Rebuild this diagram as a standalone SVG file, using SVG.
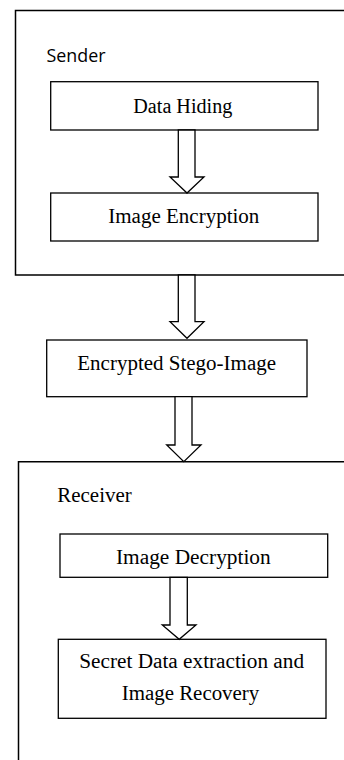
<svg xmlns="http://www.w3.org/2000/svg" width="344" height="760" viewBox="0 0 344 760">
  <style>
    .frame { fill: none; stroke: #000; stroke-width: 1.5; }
    .box { fill: #fff; stroke: #000; stroke-width: 1.3; }
    .arrow { fill: #fff; stroke: #000; stroke-width: 1.3; stroke-linejoin: miter; }
    .lbl { font-family: "Liberation Serif", "Times New Roman", serif; font-size: 20px; fill: #000; }
    .side { font-family: "Open Sans", "Noto Sans", sans-serif; font-size: 18px; fill: #000; }
  </style>
  <rect width="344" height="760" fill="#fff"/>

  <!-- Sender container (right edge runs off the page) -->
  <g id="sender">
    <path class="frame" d="M350 10.5 H15.5 V275 H350"/>
    <text class="side" x="46.5" y="62.3" textLength="59" lengthAdjust="spacingAndGlyphs">Sender</text>
  </g>

  <g id="data-hiding">
    <rect class="box" x="50.7" y="81.7" width="267.3" height="48.3"/>
    <text class="lbl" x="133.3" y="112.7" textLength="99" lengthAdjust="spacingAndGlyphs">Data Hiding</text>
  </g>

  <g id="image-encryption">
    <rect class="box" x="50.7" y="193" width="267.3" height="48"/>
    <text class="lbl" x="108.3" y="222.7" textLength="151" lengthAdjust="spacingAndGlyphs">Image Encryption</text>
  </g>

  <g id="stego-image">
    <rect class="box" x="46.7" y="340" width="260.3" height="56.7"/>
    <text class="lbl" x="77.3" y="370" textLength="198.7" lengthAdjust="spacingAndGlyphs">Encrypted Stego-Image</text>
  </g>

  <!-- Receiver container (right and bottom edges run off the page) -->
  <g id="receiver">
    <path class="frame" d="M350 461.7 H18.5 V770"/>
    <text class="lbl" x="57.3" y="502.3" textLength="74.4" lengthAdjust="spacingAndGlyphs">Receiver</text>
  </g>

  <g id="image-decryption">
    <rect class="box" x="60" y="534" width="267.7" height="43.3"/>
    <text class="lbl" x="116" y="564" textLength="154.7" lengthAdjust="spacingAndGlyphs">Image Decryption</text>
  </g>

  <g id="extraction-recovery">
    <rect class="box" x="58.3" y="639.3" width="267.7" height="79"/>
    <text class="lbl" x="79.3" y="668.3" textLength="224.7" lengthAdjust="spacingAndGlyphs">Secret Data extraction and</text>
    <text class="lbl" x="121.7" y="700" textLength="137.6" lengthAdjust="spacingAndGlyphs">Image Recovery</text>
  </g>

  <!-- Block arrows between stages -->
  <g id="connectors">
    <polygon class="arrow" points="178.3,130 195,130 195,177 204,177 187,193 170,177 178.3,177"/>
    <polygon class="arrow" points="178.3,275 195,275 195,321.7 204,321.7 187,338.3 170,321.7 178.3,321.7"/>
    <polygon class="arrow" points="175,396.7 192,396.7 192,445 201,445 183.8,461.7 166.7,445 175,445"/>
    <polygon class="arrow" points="170,577.3 187.3,577.3 187.3,625 196,625 179.2,639.3 162.3,625 170,625"/>
  </g>
</svg>
